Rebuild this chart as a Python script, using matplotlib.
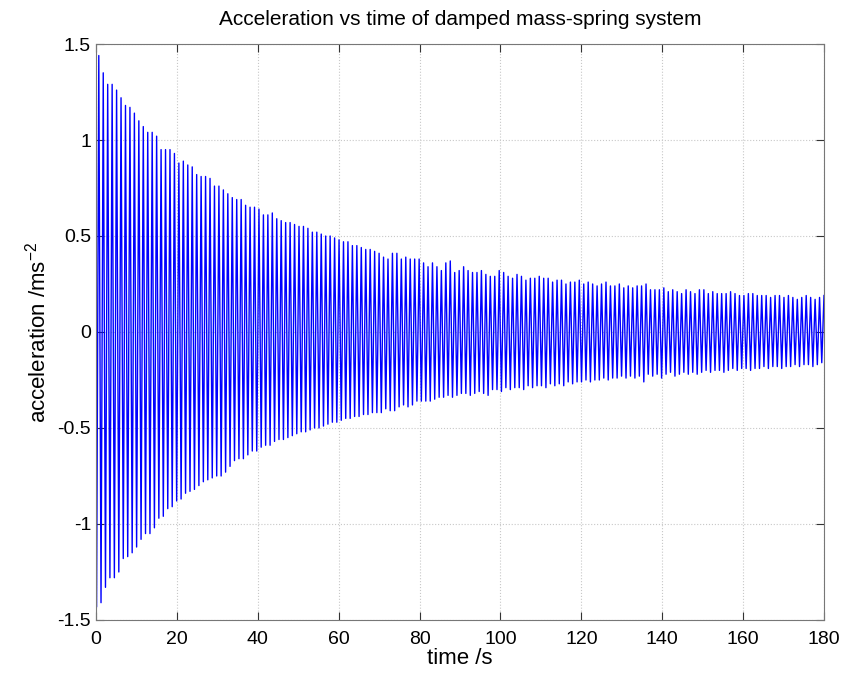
import numpy as np
import matplotlib
matplotlib.use("Agg")
import matplotlib.pyplot as plt
from matplotlib.ticker import FormatStrFormatter

plt.rcParams['font.family'] = ['Liberation Sans', 'DejaVu Sans']
plt.rcParams['axes.unicode_minus'] = False
plt.rcParams['mathtext.fontset'] = 'custom'
plt.rcParams['mathtext.rm'] = 'Liberation Sans'
plt.rcParams['mathtext.it'] = 'Liberation Sans'

period = 1.1
t_first_low = 0.15
t_first_high = 0.7

# upper peak values, one per cycle
upper_peaks = [
    1.44, 1.35, 1.29, 1.29, 1.26, 1.22, 1.18, 1.17, 1.14, 1.10,
    1.07, 1.04, 1.04, 1.02, 0.95, 0.95, 0.95, 0.93, 0.88, 0.89,
    0.87, 0.86, 0.82, 0.81, 0.81, 0.80, 0.76, 0.76, 0.74, 0.72,
    0.70, 0.69, 0.69, 0.66, 0.65, 0.65, 0.64, 0.61, 0.61, 0.62,
    0.59, 0.58, 0.57, 0.57, 0.56, 0.55, 0.55, 0.54, 0.52, 0.52,
    0.51, 0.50, 0.50, 0.49, 0.48, 0.47, 0.47, 0.45, 0.45, 0.44,
    0.43, 0.43, 0.42, 0.41, 0.39, 0.38, 0.41, 0.41, 0.38, 0.39,
    0.38, 0.38, 0.38, 0.36, 0.34, 0.36, 0.34, 0.32, 0.36, 0.37,
    0.31, 0.32, 0.34, 0.32, 0.31, 0.31, 0.32, 0.30, 0.29, 0.29,
    0.32, 0.31, 0.29, 0.28, 0.30, 0.29, 0.27, 0.28, 0.28, 0.29,
    0.28, 0.28, 0.26, 0.27, 0.27, 0.25, 0.26, 0.26, 0.27, 0.25,
    0.26, 0.25, 0.24, 0.25, 0.26, 0.24, 0.24, 0.25, 0.23, 0.24,
    0.23, 0.24, 0.24, 0.25, 0.22, 0.22, 0.22, 0.23, 0.21, 0.22,
    0.21, 0.20, 0.22, 0.21, 0.20, 0.22, 0.22, 0.20, 0.21, 0.20,
    0.20, 0.20, 0.21, 0.20, 0.19, 0.19, 0.20, 0.20, 0.19, 0.19,
    0.19, 0.18, 0.19, 0.19, 0.18, 0.19, 0.18, 0.17, 0.18, 0.19,
    0.18, 0.17, 0.18, 0.19,
]

# lower peak values, one per cycle
lower_peaks = [
    -1.43, -1.41, -1.33, -1.28, -1.28, -1.25, -1.18, -1.17, -1.15, -1.12,
    -1.08, -1.05, -1.05, -1.02, -0.97, -0.96, -0.92, -0.91, -0.88, -0.87,
    -0.84, -0.83, -0.82, -0.80, -0.78, -0.77, -0.76, -0.75, -0.75, -0.73,
    -0.70, -0.67, -0.66, -0.66, -0.64, -0.62, -0.62, -0.60, -0.59, -0.59,
    -0.57, -0.56, -0.56, -0.55, -0.54, -0.53, -0.52, -0.52, -0.51, -0.50,
    -0.50, -0.49, -0.48, -0.47, -0.47, -0.46, -0.45, -0.45, -0.44, -0.44,
    -0.43, -0.43, -0.42, -0.42, -0.42, -0.40, -0.41, -0.41, -0.39, -0.38,
    -0.39, -0.38, -0.36, -0.36, -0.36, -0.36, -0.35, -0.34, -0.34, -0.33,
    -0.34, -0.33, -0.32, -0.32, -0.33, -0.32, -0.31, -0.32, -0.33, -0.30,
    -0.30, -0.31, -0.29, -0.30, -0.29, -0.29, -0.30, -0.28, -0.29, -0.28,
    -0.28, -0.29, -0.27, -0.28, -0.27, -0.28, -0.26, -0.27, -0.26, -0.26,
    -0.25, -0.26, -0.25, -0.25, -0.24, -0.25, -0.24, -0.24, -0.23, -0.24,
    -0.23, -0.24, -0.23, -0.26, -0.22, -0.23, -0.22, -0.24, -0.22, -0.21,
    -0.23, -0.22, -0.21, -0.22, -0.21, -0.22, -0.21, -0.20, -0.21, -0.20,
    -0.20, -0.21, -0.20, -0.19, -0.20, -0.19, -0.19, -0.20, -0.19, -0.19,
    -0.18, -0.19, -0.18, -0.18, -0.19, -0.18, -0.18, -0.17, -0.18, -0.17,
    -0.17, -0.18, -0.17, -0.16,
]

x_ticks = [0, 20, 40, 60, 80, 100, 120, 140, 160, 180]
y_ticks = [-1.5, -1, -0.5, 0, 0.5, 1, 1.5]

# merge the peaks into one time-ordered trace
t_high = t_first_high + period * np.arange(len(upper_peaks))
t_low = t_first_low + period * np.arange(len(lower_peaks))
t = np.concatenate([t_high, t_low])
a = np.concatenate([upper_peaks, lower_peaks])
order = np.argsort(t)
t = t[order]
a = a[order]

fig = plt.figure(figsize=(8.44, 6.73), dpi=100)
ax = fig.add_axes([0.1137, 0.0788, 0.8626, 0.8558])

ax.plot(t, a, color='blue', linewidth=1.0)

ax.set_xlim(0, 180)
ax.set_ylim(-1.5, 1.5)
ax.set_xticks(x_ticks)
ax.set_yticks(y_ticks)
ax.yaxis.set_major_formatter(FormatStrFormatter('%g'))
ax.tick_params(direction='in', top=True, right=True, labelsize=14, length=6, color='#333333')
ax.tick_params(axis='x', pad=8)
ax.grid(True, linestyle=':', color='#c8c8c8', linewidth=0.8)
for s in ax.spines.values():
    s.set_color('#777777')

ax.set_title('Acceleration vs time of damped mass-spring system', fontsize=15, pad=14)
ax.set_xlabel('time /s', fontsize=16, labelpad=0)
ax.set_ylabel('acceleration /ms$^{-2}$', fontsize=16, labelpad=5)

fig.savefig('out.png', dpi=100)
